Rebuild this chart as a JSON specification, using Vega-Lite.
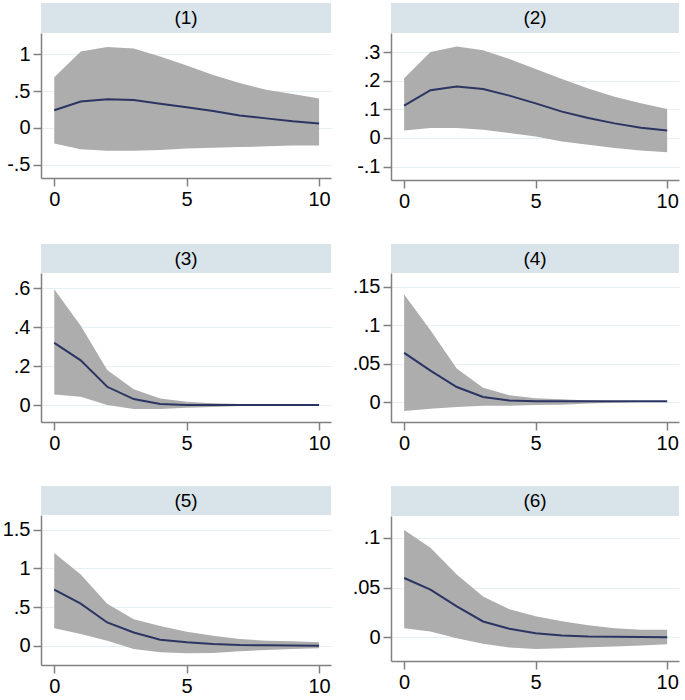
{
  "$schema": "https://vega.github.io/schema/vega-lite/v6.json",
  "padding": {"left": 2, "top": 3, "right": 4, "bottom": 0},
  "background": "white",
  "datasets": {
    "irf": [
      {"panel": "(1)", "step": 0, "lo": -0.21, "irf": 0.24, "hi": 0.69},
      {"panel": "(1)", "step": 1, "lo": -0.29, "irf": 0.36, "hi": 1.04},
      {"panel": "(1)", "step": 2, "lo": -0.31, "irf": 0.39, "hi": 1.10},
      {"panel": "(1)", "step": 3, "lo": -0.31, "irf": 0.38, "hi": 1.08},
      {"panel": "(1)", "step": 4, "lo": -0.30, "irf": 0.33, "hi": 0.97},
      {"panel": "(1)", "step": 5, "lo": -0.28, "irf": 0.28, "hi": 0.85},
      {"panel": "(1)", "step": 6, "lo": -0.27, "irf": 0.23, "hi": 0.72},
      {"panel": "(1)", "step": 7, "lo": -0.26, "irf": 0.17, "hi": 0.61},
      {"panel": "(1)", "step": 8, "lo": -0.25, "irf": 0.13, "hi": 0.52},
      {"panel": "(1)", "step": 9, "lo": -0.24, "irf": 0.09, "hi": 0.46},
      {"panel": "(1)", "step": 10, "lo": -0.24, "irf": 0.06, "hi": 0.40},

      {"panel": "(2)", "step": 0, "lo": 0.026, "irf": 0.113, "hi": 0.209},
      {"panel": "(2)", "step": 1, "lo": 0.035, "irf": 0.167, "hi": 0.301},
      {"panel": "(2)", "step": 2, "lo": 0.035, "irf": 0.180, "hi": 0.320},
      {"panel": "(2)", "step": 3, "lo": 0.029, "irf": 0.171, "hi": 0.307},
      {"panel": "(2)", "step": 4, "lo": 0.017, "irf": 0.148, "hi": 0.276},
      {"panel": "(2)", "step": 5, "lo": 0.005, "irf": 0.121, "hi": 0.241},
      {"panel": "(2)", "step": 6, "lo": -0.012, "irf": 0.092, "hi": 0.206},
      {"panel": "(2)", "step": 7, "lo": -0.024, "irf": 0.070, "hi": 0.173},
      {"panel": "(2)", "step": 8, "lo": -0.035, "irf": 0.051, "hi": 0.144},
      {"panel": "(2)", "step": 9, "lo": -0.044, "irf": 0.036, "hi": 0.121},
      {"panel": "(2)", "step": 10, "lo": -0.050, "irf": 0.026, "hi": 0.101},

      {"panel": "(3)", "step": 0, "lo": 0.055, "irf": 0.320, "hi": 0.595},
      {"panel": "(3)", "step": 1, "lo": 0.043, "irf": 0.230, "hi": 0.408},
      {"panel": "(3)", "step": 2, "lo": 0.000, "irf": 0.094, "hi": 0.180},
      {"panel": "(3)", "step": 3, "lo": -0.020, "irf": 0.031, "hi": 0.082},
      {"panel": "(3)", "step": 4, "lo": -0.020, "irf": 0.005, "hi": 0.034},
      {"panel": "(3)", "step": 5, "lo": -0.014, "irf": 0.000, "hi": 0.017},
      {"panel": "(3)", "step": 6, "lo": -0.010, "irf": 0.000, "hi": 0.009},
      {"panel": "(3)", "step": 7, "lo": -0.005, "irf": 0.000, "hi": 0.005},
      {"panel": "(3)", "step": 8, "lo": -0.003, "irf": 0.000, "hi": 0.003},
      {"panel": "(3)", "step": 9, "lo": -0.002, "irf": 0.000, "hi": 0.002},
      {"panel": "(3)", "step": 10, "lo": -0.001, "irf": 0.000, "hi": 0.001},

      {"panel": "(4)", "step": 0, "lo": -0.0117, "irf": 0.064, "hi": 0.140},
      {"panel": "(4)", "step": 1, "lo": -0.0087, "irf": 0.041, "hi": 0.0935},
      {"panel": "(4)", "step": 2, "lo": -0.0065, "irf": 0.0196, "hi": 0.0435},
      {"panel": "(4)", "step": 3, "lo": -0.005, "irf": 0.0065, "hi": 0.0187},
      {"panel": "(4)", "step": 4, "lo": -0.005, "irf": 0.002, "hi": 0.0087},
      {"panel": "(4)", "step": 5, "lo": -0.004, "irf": 0.001, "hi": 0.005},
      {"panel": "(4)", "step": 6, "lo": -0.0035, "irf": 0.001, "hi": 0.0035},
      {"panel": "(4)", "step": 7, "lo": -0.002, "irf": 0.001, "hi": 0.002},
      {"panel": "(4)", "step": 8, "lo": -0.001, "irf": 0.001, "hi": 0.0015},
      {"panel": "(4)", "step": 9, "lo": 0.0, "irf": 0.001, "hi": 0.001},
      {"panel": "(4)", "step": 10, "lo": 0.0, "irf": 0.001, "hi": 0.001},

      {"panel": "(5)", "step": 0, "lo": 0.226, "irf": 0.726, "hi": 1.197},
      {"panel": "(5)", "step": 1, "lo": 0.150, "irf": 0.543, "hi": 0.919},
      {"panel": "(5)", "step": 2, "lo": 0.064, "irf": 0.300, "hi": 0.543},
      {"panel": "(5)", "step": 3, "lo": -0.043, "irf": 0.171, "hi": 0.342},
      {"panel": "(5)", "step": 4, "lo": -0.085, "irf": 0.077, "hi": 0.256},
      {"panel": "(5)", "step": 5, "lo": -0.098, "irf": 0.043, "hi": 0.180},
      {"panel": "(5)", "step": 6, "lo": -0.094, "irf": 0.021, "hi": 0.128},
      {"panel": "(5)", "step": 7, "lo": -0.073, "irf": 0.009, "hi": 0.085},
      {"panel": "(5)", "step": 8, "lo": -0.056, "irf": 0.005, "hi": 0.064},
      {"panel": "(5)", "step": 9, "lo": -0.043, "irf": 0.002, "hi": 0.056},
      {"panel": "(5)", "step": 10, "lo": -0.034, "irf": 0.000, "hi": 0.043},

      {"panel": "(6)", "step": 0, "lo": 0.0091, "irf": 0.0596, "hi": 0.108},
      {"panel": "(6)", "step": 1, "lo": 0.0057, "irf": 0.0478, "hi": 0.090},
      {"panel": "(6)", "step": 2, "lo": -0.001, "irf": 0.031, "hi": 0.063},
      {"panel": "(6)", "step": 3, "lo": -0.0067, "irf": 0.0158, "hi": 0.041},
      {"panel": "(6)", "step": 4, "lo": -0.0104, "irf": 0.0084, "hi": 0.028},
      {"panel": "(6)", "step": 5, "lo": -0.0118, "irf": 0.004, "hi": 0.021},
      {"panel": "(6)", "step": 6, "lo": -0.0111, "irf": 0.0017, "hi": 0.016},
      {"panel": "(6)", "step": 7, "lo": -0.0101, "irf": 0.0007, "hi": 0.012},
      {"panel": "(6)", "step": 8, "lo": -0.0094, "irf": 0.0003, "hi": 0.009},
      {"panel": "(6)", "step": 9, "lo": -0.0084, "irf": 0.0001, "hi": 0.0074},
      {"panel": "(6)", "step": 10, "lo": -0.0071, "irf": 0.0, "hi": 0.0074}
    ]
  },
  "config": {
    "font": "Liberation Sans",
    "view": {"stroke": null},
    "axis": {
      "labelFont": "Liberation Sans",
      "labelFontSize": 20,
      "labelColor": "#000000",
      "labelOverlap": false,
      "domainColor": "#808080",
      "tickColor": "#808080",
      "domainWidth": 1.5,
      "tickWidth": 1.5,
      "tickSize": 8,
      "tickCount": 12,
      "title": null
    },
    "axisY": {"gridColor": "#e6eff2", "gridWidth": 1, "labelPadding": 3, "labelOverlap": false, "tickCount": 12, "labelExpr": "replace(datum.value + '', '0.', '.')"},
    "axisX": {"grid": false, "labelPadding": 3}
  },
  "columns": 2,
  "spacing": {"row": 33, "column": 21},
  "concat": [
    {
      "spacing": 0,
      "vconcat": [
        {"data": {"values": [{"t": "(1)"}]}, "width": 290, "height": 30, "view": {"fill": "#d8e4ea", "stroke": null},
         "mark": {"type": "text", "fontSize": 19, "font": "Liberation Sans", "color": "#000"}, "encoding": {"text": {"field": "t"}}},
        {"data": {"name": "irf"}, "transform": [{"filter": "datum.panel == '(1)'"}], "width": 290, "height": 145,
         "encoding": {
           "x": {"field": "step", "type": "quantitative", "scale": {"domain": [-0.5, 10.45], "nice": false, "zero": false}, "axis": {"values": [0, 5, 10]}}
         },
         "layer": [
           {"mark": {"type": "area", "color": "#adadad", "opacity": 1},
            "encoding": {"y": {"field": "lo", "type": "quantitative", "scale": {"domain": [-0.68, 1.29], "nice": false, "zero": false}, "axis": {"values": [-0.5, 0, 0.5, 1], "tickCount": 12}}, "y2": {"field": "hi"}}},
           {"mark": {"type": "line", "color": "#2b3462", "strokeWidth": 2},
            "encoding": {"y": {"field": "irf", "type": "quantitative"}}}
         ]}
      ]
    },
    {
      "spacing": 0,
      "vconcat": [
        {"data": {"values": [{"t": "(2)"}]}, "width": 288, "height": 30, "view": {"fill": "#d8e4ea", "stroke": null},
         "mark": {"type": "text", "fontSize": 19, "font": "Liberation Sans", "color": "#000"}, "encoding": {"text": {"field": "t"}}},
        {"data": {"name": "irf"}, "transform": [{"filter": "datum.panel == '(2)'"}], "width": 288, "height": 147,
         "encoding": {
           "x": {"field": "step", "type": "quantitative", "scale": {"domain": [-0.5, 10.45], "nice": false, "zero": false}, "axis": {"values": [0, 5, 10]}}
         },
         "layer": [
           {"mark": {"type": "area", "color": "#adadad", "opacity": 1},
            "encoding": {"y": {"field": "lo", "type": "quantitative", "scale": {"domain": [-0.147, 0.367], "nice": false, "zero": false}, "axis": {"values": [-0.1, 0, 0.1, 0.2, 0.3], "tickCount": 12}}, "y2": {"field": "hi"}}},
           {"mark": {"type": "line", "color": "#2b3462", "strokeWidth": 2},
            "encoding": {"y": {"field": "irf", "type": "quantitative"}}}
         ]}
      ]
    },
    {
      "spacing": 0,
      "vconcat": [
        {"data": {"values": [{"t": "(3)"}]}, "width": 290, "height": 29, "view": {"fill": "#d8e4ea", "stroke": null},
         "mark": {"type": "text", "fontSize": 19, "font": "Liberation Sans", "color": "#000"}, "encoding": {"text": {"field": "t"}}},
        {"data": {"name": "irf"}, "transform": [{"filter": "datum.panel == '(3)'"}], "width": 290, "height": 149,
         "encoding": {
           "x": {"field": "step", "type": "quantitative", "scale": {"domain": [-0.5, 10.45], "nice": false, "zero": false}, "axis": {"values": [0, 5, 10]}}
         },
         "layer": [
           {"mark": {"type": "area", "color": "#adadad", "opacity": 1},
            "encoding": {"y": {"field": "lo", "type": "quantitative", "scale": {"domain": [-0.087, 0.679], "nice": false, "zero": false}, "axis": {"values": [0, 0.2, 0.4, 0.6], "tickCount": 12}}, "y2": {"field": "hi"}}},
           {"mark": {"type": "line", "color": "#2b3462", "strokeWidth": 2},
            "encoding": {"y": {"field": "irf", "type": "quantitative"}}}
         ]}
      ]
    },
    {
      "spacing": 0,
      "vconcat": [
        {"data": {"values": [{"t": "(4)"}]}, "width": 288, "height": 29, "view": {"fill": "#d8e4ea", "stroke": null},
         "mark": {"type": "text", "fontSize": 19, "font": "Liberation Sans", "color": "#000"}, "encoding": {"text": {"field": "t"}}},
        {"data": {"name": "irf"}, "transform": [{"filter": "datum.panel == '(4)'"}], "width": 288, "height": 149,
         "encoding": {
           "x": {"field": "step", "type": "quantitative", "scale": {"domain": [-0.5, 10.45], "nice": false, "zero": false}, "axis": {"values": [0, 5, 10]}}
         },
         "layer": [
           {"mark": {"type": "area", "color": "#adadad", "opacity": 1},
            "encoding": {"y": {"field": "lo", "type": "quantitative", "scale": {"domain": [-0.026, 0.168], "nice": false, "zero": false}, "axis": {"values": [0, 0.05, 0.1, 0.15], "tickCount": 12}}, "y2": {"field": "hi"}}},
           {"mark": {"type": "line", "color": "#2b3462", "strokeWidth": 2},
            "encoding": {"y": {"field": "irf", "type": "quantitative"}}}
         ]}
      ]
    },
    {
      "spacing": 0,
      "vconcat": [
        {"data": {"values": [{"t": "(5)"}]}, "width": 290, "height": 29, "view": {"fill": "#d8e4ea", "stroke": null},
         "mark": {"type": "text", "fontSize": 19, "font": "Liberation Sans", "color": "#000"}, "encoding": {"text": {"field": "t"}}},
        {"data": {"name": "irf"}, "transform": [{"filter": "datum.panel == '(5)'"}], "width": 290, "height": 150,
         "encoding": {
           "x": {"field": "step", "type": "quantitative", "scale": {"domain": [-0.5, 10.45], "nice": false, "zero": false}, "axis": {"values": [0, 5, 10]}}
         },
         "layer": [
           {"mark": {"type": "area", "color": "#adadad", "opacity": 1},
            "encoding": {"y": {"field": "lo", "type": "quantitative", "scale": {"domain": [-0.25, 1.69], "nice": false, "zero": false}, "axis": {"values": [0, 0.5, 1, 1.5], "tickCount": 12}}, "y2": {"field": "hi"}}},
           {"mark": {"type": "line", "color": "#2b3462", "strokeWidth": 2},
            "encoding": {"y": {"field": "irf", "type": "quantitative"}}}
         ]}
      ]
    },
    {
      "spacing": 0,
      "vconcat": [
        {"data": {"values": [{"t": "(6)"}]}, "width": 288, "height": 30, "view": {"fill": "#d8e4ea", "stroke": null},
         "mark": {"type": "text", "fontSize": 19, "font": "Liberation Sans", "color": "#000"}, "encoding": {"text": {"field": "t"}}},
        {"data": {"name": "irf"}, "transform": [{"filter": "datum.panel == '(6)'"}], "width": 288, "height": 145,
         "encoding": {
           "x": {"field": "step", "type": "quantitative", "scale": {"domain": [-0.5, 10.45], "nice": false, "zero": false}, "axis": {"values": [0, 5, 10]}}
         },
         "layer": [
           {"mark": {"type": "area", "color": "#adadad", "opacity": 1},
            "encoding": {"y": {"field": "lo", "type": "quantitative", "scale": {"domain": [-0.024, 0.122], "nice": false, "zero": false}, "axis": {"values": [0, 0.05, 0.1], "tickCount": 12}}, "y2": {"field": "hi"}}},
           {"mark": {"type": "line", "color": "#2b3462", "strokeWidth": 2},
            "encoding": {"y": {"field": "irf", "type": "quantitative"}}}
         ]}
      ]
    }
  ]
}
